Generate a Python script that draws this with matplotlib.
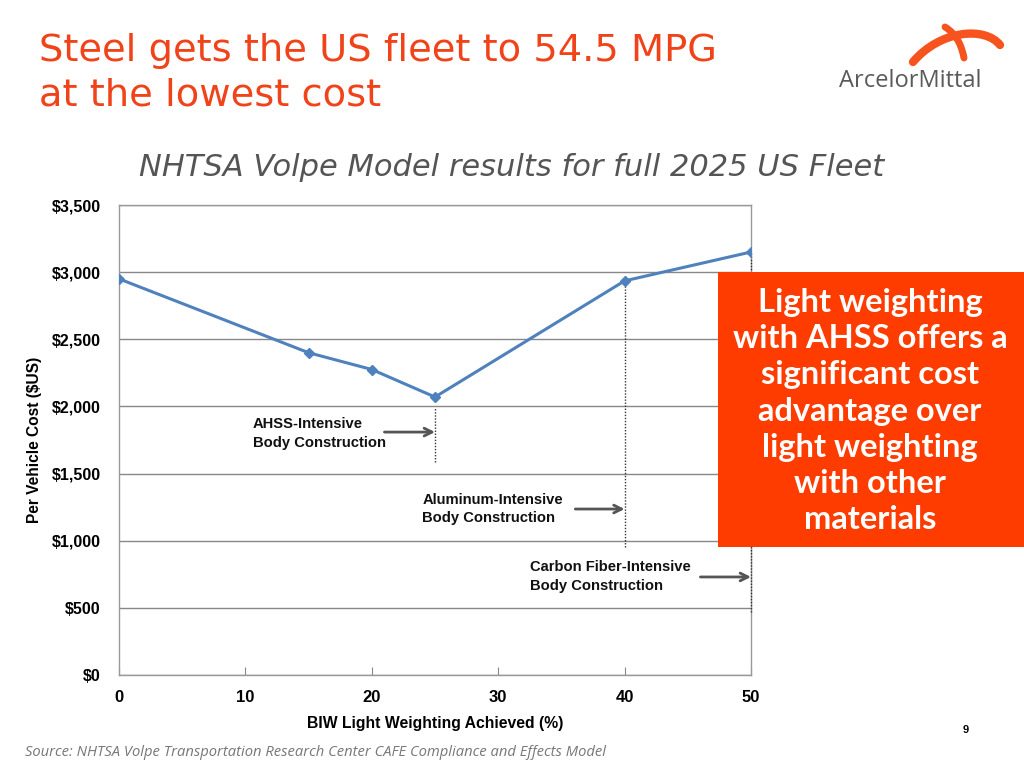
import matplotlib
matplotlib.use("Agg")
import matplotlib.pyplot as plt
from matplotlib.patches import Rectangle, PathPatch
from matplotlib.path import Path

# ---- data ----
weighting_pct = [0, 15, 20, 25, 40, 50]
cost_usd = [2950, 2400, 2275, 2070, 2935, 3150]
y_ticks = [0, 500, 1000, 1500, 2000, 2500, 3000, 3500]
y_tick_labels = ["$0", "$500", "$1,000", "$1,500", "$2,000", "$2,500", "$3,000", "$3,500"]
x_ticks = [0, 10, 20, 30, 40, 50]

marker_x = [25, 40, 50]
marker_top = [1985, 2935, 3150]
marker_bottom = [1585, 950, 470]
marker_labels = ["AHSS-Intensive\nBody Construction",
                 "Aluminum-Intensive\nBody Construction",
                 "Carbon Fiber-Intensive\nBody Construction"]
label_x = [10.6, 24.0, 32.5]
label_y = [1798, 1236, 730]
arrow_start = [21.0, 36.1, 46.0]
arrow_y = [1809, 1236, 730]

title = "Steel gets the US fleet to 54.5 MPG\nat the lowest cost"
subtitle = "NHTSA Volpe Model results for full 2025 US Fleet"
callout = "Light weighting\nwith AHSS offers a\nsignificant cost\nadvantage over\nlight weighting\nwith other\nmaterials"
source = "Source: NHTSA Volpe Transportation Research Center CAFE Compliance and Effects Model"

bold_font = ["Liberation Sans", "DejaVu Sans"]

fig = plt.figure(figsize=(10.24, 7.68), dpi=100)
fig.patch.set_facecolor("white")

ax = fig.add_axes([119/1024, 1-675/768, (751-119)/1024, (675-205)/768])
ax.plot(weighting_pct, cost_usd, color="#4F81BD", lw=2.2, marker="D", ms=5,
        markerfacecolor="#4F81BD", markeredgecolor="#4F81BD", zorder=5)
ax.set_xlim(0, 50)
ax.set_ylim(0, 3500)
ax.set_yticks(y_ticks)
ax.set_yticklabels(y_tick_labels, fontfamily=bold_font, fontweight="bold", fontsize=11.5)
ax.set_xticks(x_ticks)
ax.set_xticklabels([str(v) for v in x_ticks], fontfamily=bold_font, fontweight="bold", fontsize=12)
ax.tick_params(axis="y", length=0, pad=13)
ax.tick_params(axis="x", direction="in", length=6, color="#888888", pad=11)
ax.grid(axis="y", color="#888888", lw=1)
ax.set_axisbelow(True)
for s in ax.spines.values():
    s.set_color("#999999")
    s.set_linewidth(1)
ax.set_xlabel("BIW Light Weighting Achieved (%)", fontfamily=bold_font, fontweight="bold",
              fontsize=11.3, labelpad=8)
fig.text(35/1024, 1-440/768, "Per Vehicle Cost ($US)", fontfamily=bold_font, fontweight="bold",
         fontsize=11.2, rotation=90, ha="center", va="center")

for mx, top, bot in zip(marker_x, marker_top, marker_bottom):
    ax.plot([mx, mx], [bot, top], color="#333333", lw=1, ls=(0, (1, 1.2)), zorder=4, clip_on=False)
for lab, lx, ly, ax0, ay, mx in zip(marker_labels, label_x, label_y, arrow_start, arrow_y, marker_x):
    ax.text(lx, ly, lab, fontfamily=bold_font, fontweight="bold", fontsize=10.6,
            ha="left", va="center", linespacing=1.45, color="#111111")
    ax.annotate("", xy=(mx, ay), xytext=(ax0, ay),
                arrowprops=dict(arrowstyle="->", color="#555555", lw=2,
                                mutation_scale=14, shrinkA=0, shrinkB=0))

# title and subtitle
fig.text(39/1024, 1-73/768, title, color="#F0431A", fontsize=27.6, fontfamily="DejaVu Sans",
         ha="left", va="center", linespacing=1.32)
fig.text(512/1024, 1-167/768, subtitle, color="#555555", fontsize=22, fontstyle="italic",
         fontfamily="DejaVu Sans", ha="center", va="center")

# callout box
fig.patches.append(Rectangle((718/1024, 1-547/768), (1024-718)/1024, (547-272)/768,
                             transform=fig.transFigure, facecolor="#FF3C00", edgecolor="none", zorder=10))
fig.text(870/1024, 1-411/768, callout, color="white", fontsize=23.5, fontweight="bold",
         fontfamily="Lato", ha="center", va="center", linespacing=1.3, zorder=11)

# logo
verts = [(913/1024, 1-62/768), (940/1024, 1-30/768), (985/1024, 1-26/768), (1000/1024, 1-45/768)]
fig.patches.append(PathPatch(Path(verts, [Path.MOVETO, Path.CURVE4, Path.CURVE4, Path.CURVE4]),
                             transform=fig.transFigure, fill=False, edgecolor="#F7531E", lw=6,
                             capstyle="round"))
verts2 = [(945/1024, 1-27/768), (958/1024, 1-35/768), (962/1024, 1-48/768), (964/1024, 1-58/768)]
fig.patches.append(PathPatch(Path(verts2, [Path.MOVETO, Path.CURVE4, Path.CURVE4, Path.CURVE4]),
                             transform=fig.transFigure, fill=False, edgecolor="#F7531E", lw=5,
                             capstyle="round"))
fig.text(910/1024, 1-81/768, "ArcelorMittal", color="#5A5A5A", fontsize=17,
         fontfamily="Open Sans", ha="center", va="center")

fig.text(966/1024, 1-730/768, "9", fontsize=8, fontweight="bold", fontfamily=bold_font,
         ha="center", va="center")
fig.text(25/1024, 1-752/768, source, color="#777777", fontsize=10.6, fontstyle="italic",
         fontfamily="Open Sans", ha="left", va="center")

fig.savefig("out.png", dpi=100)
